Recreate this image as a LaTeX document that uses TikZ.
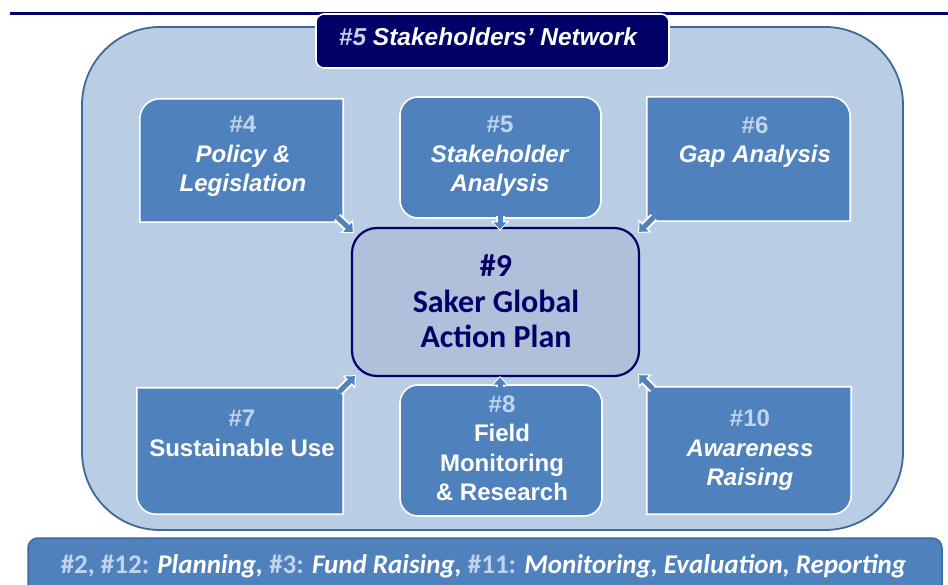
\documentclass[tikz,border=0pt]{standalone}
\usepackage{fontspec}
\setmainfont{Liberation Sans}
\newfontfamily\calfont{Carlito}
\usetikzlibrary{arrows.meta}
\definecolor{navy}{RGB}{0,0,102}
\definecolor{outerfill}{RGB}{185,205,229}
\definecolor{outerline}{RGB}{65,105,150}
\definecolor{boxblue}{RGB}{79,129,189}
\definecolor{centerfill}{RGB}{176,192,219}
\definecolor{numcol}{RGB}{194,212,236}
\definecolor{barline}{RGB}{60,105,160}
\newcommand\numtag[1]{\textcolor{numcol}{#1}}
\begin{document}
\begin{tikzpicture}[x=1pt,y=1pt,
  area/.style={rectangle, inner sep=0pt},
  boxshape/.style={fill=boxblue, draw=white, line width=1.6pt},
  boxtext/.style={font=\bfseries\fontsize{24}{29.5}\selectfont, text=white, align=center, inner sep=0pt},
  centertext/.style={font=\calfont\bfseries\fontsize{32}{35.5}\selectfont, text=navy, align=center, inner sep=0pt},
  blockarrow/.style={draw=boxblue, line width=5pt, shorten >=1.5pt,
    -{Triangle[length=7pt,width=12.5pt]},
    preaction={draw=white, line width=9pt, shorten >=0pt, -{Triangle[length=10pt,width=18pt]}}}]
\useasboundingbox (0,0) rectangle (948,584);
% top rule
\draw[navy, line width=3pt] (10,570.5) -- (948,570.5);
% outer network area
\node[area, fill=outerfill, draw=outerline, line width=1.8pt, rounded corners=78pt,
      minimum width=821pt, minimum height=503pt] (outer) at (492.5,305.5) {};
% title label
\node[area, fill=navy, draw=white, line width=1.6pt, rounded corners=8pt,
      minimum width=353pt, minimum height=54pt] (lab) at (492.5,543) {};
\node[anchor=base, inner sep=0pt, text=white, font=\bfseries\itshape\fontsize{24.5}{28}\selectfont]
      (labtext) at (488,538) {\numtag{\#5} Stakeholders’ Network};
% box areas
\node[area, minimum width=203pt, minimum height=123pt] (b4) at (241.5,423.5) {};
\node[area, boxshape, rounded corners=18pt, minimum width=201pt, minimum height=121pt] (b5) at (500.5,426.5) {};
\node[area, minimum width=203pt, minimum height=124pt] (b6) at (748.5,425) {};
\node[area, minimum width=206pt, minimum height=126pt] (b7) at (240,133) {};
\node[area, boxshape, rounded corners=18pt, minimum width=202pt, minimum height=131pt] (b8) at (501,133.5) {};
\node[area, minimum width=204pt, minimum height=127pt] (b10) at (749,133.5) {};
% shapes with one rounded corner
\draw[boxshape] (b4.south west) -- ([yshift=-20]b4.north west) arc[start angle=180,end angle=90,radius=20]
   -- (b4.north east) -- (b4.south east) -- cycle;
\draw[boxshape] (b6.south west) -- (b6.north west) -- ([xshift=-20]b6.north east)
   arc[start angle=90,end angle=0,radius=20] -- (b6.south east) -- cycle;
\draw[boxshape] (b7.north west) -- (b7.north east) -- (b7.south east) -- ([xshift=19]b7.south west)
   arc[start angle=270,end angle=180,radius=19] -- cycle;
\draw[boxshape] (b10.north west) -- (b10.north east) -- ([yshift=19]b10.south east)
   arc[start angle=0,end angle=-90,radius=19] -- (b10.south west) -- cycle;
% central box
\node[area, fill=centerfill, draw=navy, line width=2.2pt, rounded corners=25pt,
      minimum width=287pt, minimum height=148pt] (b9) at (495.5,282) {};
% texts
\node[boxtext] (t4) at (243,427.5) {\numtag{\#4}\\\textit{Policy \&}\\\textit{Legislation}};
\node[boxtext] (t5) at (500,427.5) {\numtag{\#5}\\\textit{Stakeholder}\\\textit{Analysis}};
\node[boxtext] (t6) at (755,442) {\numtag{\#6}\\\textit{Gap Analysis}};
\node[boxtext] (t7) at (242,150.5) {\numtag{\#7}\\Sustainable Use};
\node[boxtext] (t8) at (502,136) {\numtag{\#8}\\Field\\Monitoring\\\& Research};
\node[boxtext] (t10) at (750,133.5) {\numtag{\#10}\\\textit{Awareness}\\\textit{Raising}};
\node[centertext] (t9) at (496,282.5) {\#9\\Saker Global\\Action Plan};
% arrows
\draw[blockarrow] ([shift={(-6,5)}]b4.south east) -- ([shift={(3,-6)}]b9.north west);
\draw[blockarrow] ([xshift=-0.5,yshift=3]b5.south) -- ([xshift=4.5,yshift=-4]b9.north);
\draw[blockarrow] ([shift={(7,4)}]b6.south west) -- ([shift={(-2,-6)}]b9.north east);
\draw[blockarrow] ([shift={(-4,-4)}]b7.north east) -- ([shift={(5,2)}]b9.south west);
\draw[blockarrow] ([xshift=-1,yshift=-3]b8.north) -- ([xshift=4.5,yshift=1]b9.south);
\draw[blockarrow] ([shift={(6,-2)}]b10.north west) -- ([shift={(-2,3)}]b9.south east);
% bottom bar
\node[area, fill=boxblue, draw=barline, line width=1.5pt, rounded corners=10pt,
      minimum width=914pt, minimum height=66pt] (bar) at (485,13) {};
\node[anchor=base, inner sep=0pt, text=white, font=\calfont\bfseries\fontsize{27}{30}\selectfont]
      (bartext) at (483.5,11) {\numtag{\#2, \#12:} \textit{Planning,} \numtag{\#3:} \textit{Fund Raising,} \numtag{\#11:} \textit{Monitoring, Evaluation, Reporting}};
\end{tikzpicture}
\end{document}
